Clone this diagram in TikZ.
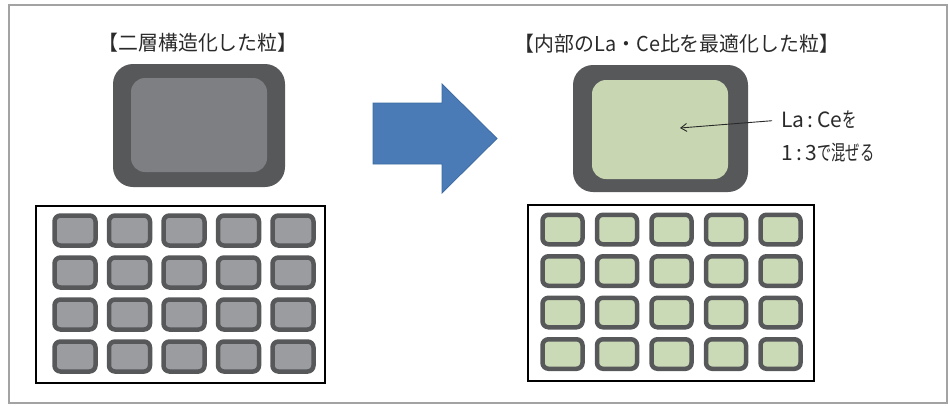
\documentclass[tikz,border=0pt]{standalone}
\usepackage{fontspec}
\setmainfont{Noto Sans CJK JP}
\newfontfamily\titlefont[FakeStretch=0.97]{Noto Sans CJK JP}
\newfontfamily\narrowfont[FakeStretch=0.68]{Noto Sans CJK JP}
\usetikzlibrary{arrows.meta}
\definecolor{frameg}{HTML}{A3A3A3}
\definecolor{shell}{HTML}{57585A}
\definecolor{coreg}{HTML}{7E7F83}
\definecolor{coregreen}{HTML}{C8D7B2}
\definecolor{cellgray}{HTML}{9B9C9F}
\definecolor{cellgreen}{HTML}{CAD9B6}
\definecolor{arrowblue}{HTML}{4A7BB7}
\definecolor{arrowedge}{HTML}{3E6BA2}
\definecolor{txt}{HTML}{2A2A2A}
\tikzset{
  title/.style={font=\titlefont\fontsize{20.5}{22}\selectfont, text=txt, inner sep=0pt},
  lbl/.style={font=\fontsize{21}{22}\selectfont, text=txt, inner sep=0pt, anchor=west},
  outerp/.style={fill=shell, rounded corners=20pt, inner sep=0pt, minimum width=#1},
  innerp/.style={rounded corners=14pt, inner sep=0pt, minimum width=#1},
  cell/.style={draw=shell, line width=4.5pt, rounded corners=6pt, inner sep=0pt,
    minimum width=41pt, minimum height=30pt},
  tray/.style={draw=black, line width=2.2pt, inner sep=0pt, fill=white}
}
\begin{document}
\begin{tikzpicture}[x=1pt,y=-1pt]
\useasboundingbox (0,0) rectangle (948,405);
\draw[frameg, line width=1.4pt] (9,5) rectangle (947,403);
% titles
\node[title] (t1) at (198,43) {【二層構造化した粒】};
\node[title] (t2) at (677,44) {【内部のLa・Ce比を最適化した粒】};
% big particles
\node[outerp=172pt, minimum height=123pt] (p1) at (199,125.5) {};
\node[innerp=136pt, minimum height=94pt, fill=coreg] (c1) at (199,125) {};
\node[outerp=175pt, minimum height=127pt] (p2) at (660.5,128.5) {};
\node[innerp=136pt, minimum height=99pt, fill=coregreen] (c2) at (660,129.5) {};
% blue arrow
\filldraw[fill=arrowblue, draw=arrowedge, line width=0.8pt]
  (373,103) -- (442,103) -- (442,84) -- (497,138.5) -- (442,193) -- (442,164) -- (373,164) -- cycle;
% label
\node[lbl] (l1) at (781,120) {La\,:\,Ce{\narrowfont を}};
\node[lbl] (l2) at (781,152) {1\,:\,3{\narrowfont で混ぜる}};
\coordinate (mix) at (680,128);
\draw[txt, line width=0.9pt, shorten <=9pt, -{Straight Barb[length=6pt,width=8pt]}] (l1.west) -- (mix);
% trays
\node[tray, minimum width=289pt, minimum height=177pt] (tray1) at (180.5,294.5) {};
\node[tray, minimum width=286pt, minimum height=176pt] (tray2) at (671,293) {};
\foreach \r in {0,...,3}{
  \foreach \c in {0,...,4}{
    \node[cell, fill=cellgray] (L-\r-\c) at ({75+54.5*\c},{230.5+42*\r}) {};
    \node[cell, fill=cellgreen, minimum width=40pt, minimum height=29.5pt] (R-\r-\c) at ({562.5+54.5*\c},{229.5+41.5*\r}) {};
  }
}
\end{tikzpicture}
\end{document}
